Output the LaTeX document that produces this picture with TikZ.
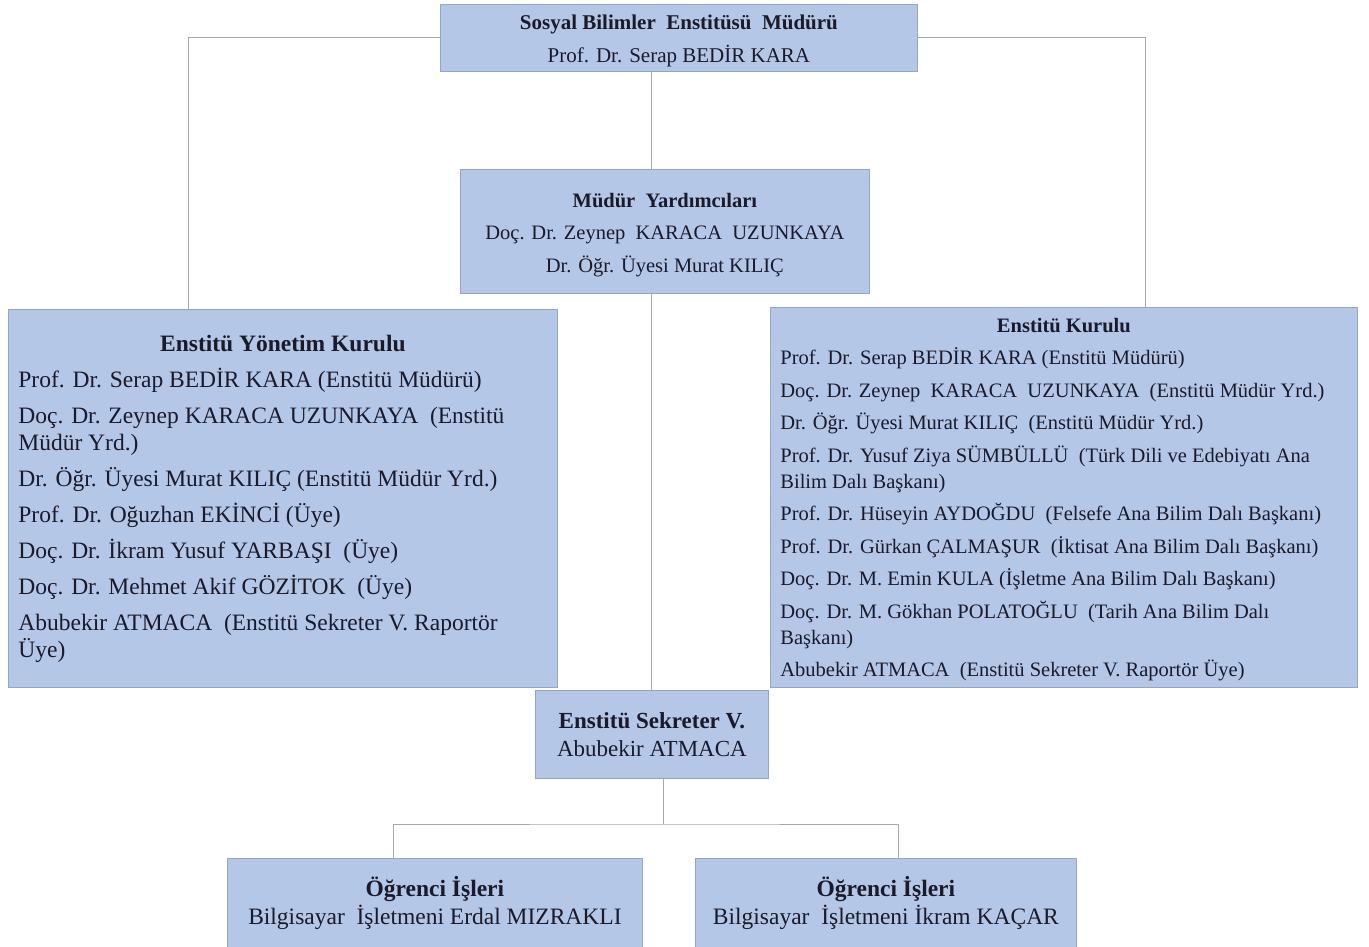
\documentclass[tikz,border=0pt]{standalone}
\usepackage{fontspec}
\setmainfont{Liberation Serif}
\usetikzlibrary{backgrounds}
\definecolor{boxfill}{HTML}{B4C7E7}
\definecolor{boxline}{HTML}{95A6C2}
\definecolor{connline}{HTML}{A8A8A8}
\definecolor{txt}{HTML}{1A1A2A}
\begin{document}
\begin{tikzpicture}[x=1pt,y=-1pt,
  box/.style={draw=boxline, fill=boxfill, line width=0.8pt, inner sep=0pt, anchor=north west, align=center, text=txt},
  listbox/.style={box, align=left},
  conn/.style={draw=connline, line width=1pt}]
\useasboundingbox (0,0) rectangle (1369,947);

% top
\node[box, minimum width=477pt, minimum height=67pt, font=\fontsize{21}{33}\selectfont] (top) at (440,4)
  {\rule{0pt}{20.5pt}\textbf{Sosyal Bilimler\ \ Enstitüsü\ \ Müdürü}\\Prof. Dr. Serap BEDİR KARA};

% vice directors
\node[box, minimum width=409pt, minimum height=124pt, font=\fontsize{20.5}{32.5}\selectfont] (mud) at (460,169)
  {\rule{0pt}{21pt}\textbf{Müdür\ \ Yardımcıları}\\Doç. Dr. Zeynep\ \ KARACA\ \ UZUNKAYA\\Dr. Öğr. Üyesi Murat KILIÇ};

% left board
\node[listbox, minimum width=549pt, minimum height=378pt, font=\fontsize{23.5}{27}\selectfont] (ykb) at (8,309)
  {\makebox[529pt][c]{\bfseries Enstitü Yönetim Kurulu}\\[9pt]
   Prof. Dr. Serap BEDİR KARA (Enstitü Müdürü)\\[9pt]
   Doç. Dr. Zeynep KARACA UZUNKAYA\ \ (Enstitü\\
   Müdür Yrd.)\\[9pt]
   Dr. Öğr. Üyesi Murat KILIÇ (Enstitü Müdür Yrd.)\\[9pt]
   Prof. Dr. Oğuzhan EKİNCİ (Üye)\\[9pt]
   Doç. Dr. İkram Yusuf YARBAŞI\ \ (Üye)\\[9pt]
   Doç. Dr. Mehmet Akif GÖZİTOK\ \ (Üye)\\[9pt]
   Abubekir ATMACA\ \ (Enstitü Sekreter V. Raportör\\
   Üye)};

% right board
\node[listbox, minimum width=587pt, minimum height=380pt, font=\fontsize{20.5}{26}\selectfont] (ek) at (770,307)
  {\makebox[567pt][c]{\rule{0pt}{19pt}\bfseries Enstitü Kurulu}\\[6.5pt]
   Prof. Dr. Serap BEDİR KARA (Enstitü Müdürü)\\[6.5pt]
   Doç. Dr. Zeynep\ \ KARACA\ \ UZUNKAYA\ \ (Enstitü Müdür Yrd.)\\[6.5pt]
   Dr. Öğr. Üyesi Murat KILIÇ\ \ (Enstitü Müdür Yrd.)\\[6.5pt]
   Prof. Dr. Yusuf Ziya SÜMBÜLLÜ\ \ (Türk Dili ve Edebiyatı Ana\\
   Bilim Dalı Başkanı)\\[6.5pt]
   Prof. Dr. Hüseyin AYDOĞDU\ \ (Felsefe Ana Bilim Dalı Başkanı)\\[6.5pt]
   Prof. Dr. Gürkan ÇALMAŞUR\ \ (İktisat Ana Bilim Dalı Başkanı)\\[6.5pt]
   Doç. Dr. M. Emin KULA (İşletme Ana Bilim Dalı Başkanı)\\[6.5pt]
   Doç. Dr. M. Gökhan POLATOĞLU\ \ (Tarih Ana Bilim Dalı\\
   Başkanı)\\[6.5pt]
   Abubekir ATMACA\ \ (Enstitü Sekreter V. Raportör Üye)};

% secretary
\node[box, minimum width=233pt, minimum height=88pt, font=\fontsize{23}{28}\selectfont] (sek) at (535,690)
  {\textbf{Enstitü Sekreter V.}\\Abubekir ATMACA};

% student affairs
\node[box, minimum width=415pt, minimum height=89pt, font=\fontsize{23.5}{28}\selectfont] (og1) at (227,858)
  {\textbf{Öğrenci İşleri}\\Bilgisayar\ \ İşletmeni Erdal MIZRAKLI};
\node[box, minimum width=381pt, minimum height=89pt, font=\fontsize{23.5}{28}\selectfont] (og2) at (695,858)
  {\textbf{Öğrenci İşleri}\\Bilgisayar\ \ İşletmeni İkram KAÇAR};

% connector joints
\coordinate (lj) at (188,309);
\coordinate (rj) at (1145,307);
\coordinate (hb) at (663,824);
\coordinate (bl) at (393,858);
\coordinate (br) at (898,858);

\begin{scope}[on background layer]
  \fill[white] (0,0) rectangle (1369,947);
  \draw[conn] (top.west) -| (lj);
  \draw[conn] (top.east) -| (rj);
  \draw[conn] (top.south -| sek.north) -- (mud.north -| sek.north);
  \draw[conn] (mud.south -| sek.north) -- (sek.north);
  \draw[conn] (sek.south -| hb) -- (hb);
  \draw[conn] (bl) |- (hb) -| (br);
\end{scope}
\end{tikzpicture}
\end{document}
